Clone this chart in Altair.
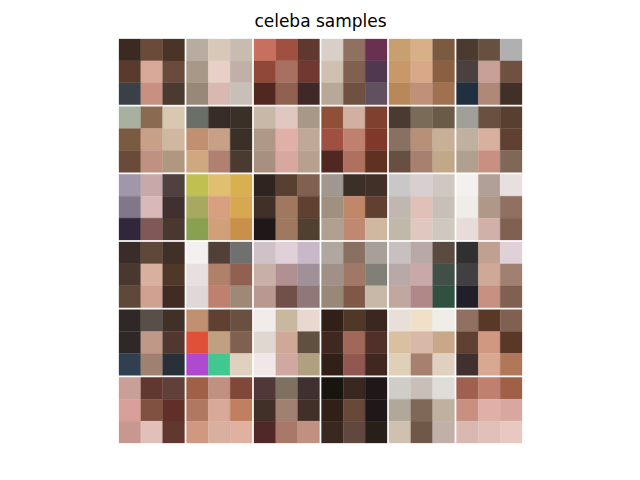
import pandas as pd
import altair as alt

# 6x6 grid of generated faces, each tile reduced to a 3x3 colour mosaic
# (read left->right, top->bottom inside each tile)
row1 = [
    ['#3a2a22', '#6b4a3a', '#4a3428', '#5a3a2a', '#d8a898', '#6a4a3a', '#3a4048', '#c89080', '#4a3a30'],
    ['#b8aca0', '#d8c8b8', '#c8bcb0', '#a89888', '#e8d0c8', '#c0b0a8', '#988878', '#d8b8b0', '#c8c0b8'],
    ['#c87060', '#a05040', '#603830', '#904838', '#a87060', '#703830', '#502820', '#906050', '#402828'],
    ['#d8d0c8', '#907060', '#6a3050', '#d0c0b0', '#806050', '#503850', '#b8a898', '#705040', '#605060'],
    ['#c8a070', '#d8b088', '#7a5a40', '#c89868', '#d8a888', '#8a6040', '#b88858', '#c09078', '#a07050'],
    ['#4a3a30', '#685040', '#b0b0b0', '#4a4040', '#c8a098', '#705040', '#203040', '#b08878', '#403028'],
]
row2 = [
    ['#a8b0a0', '#8a6a50', '#d8c8b0', '#7a5a40', '#c8a088', '#d0b8a0', '#6a4a38', '#c09080', '#b09880'],
    ['#6a7068', '#382c28', '#3a3028', '#c09070', '#c8a088', '#3a3028', '#d0a880', '#b08070', '#4a3a30'],
    ['#c8b8a8', '#e0c8c0', '#a89888', '#b09888', '#e0b0a8', '#c0a898', '#a89080', '#d8a8a0', '#b8a090'],
    ['#905038', '#d0b0a0', '#804030', '#a05040', '#c08070', '#803828', '#502820', '#b07060', '#603020'],
    ['#4a3a30', '#7a6a58', '#6a5a48', '#8a7060', '#b89078', '#c8b098', '#685040', '#a88070', '#c0a888'],
    ['#a0a098', '#6a5040', '#584030', '#c0b0a0', '#d8b0a0', '#604030', '#b0a090', '#c89080', '#806858'],
]
row3 = [
    ['#a098a8', '#c8a8a8', '#504040', '#807888', '#d8b8b8', '#403030', '#30283a', '#805858', '#4a3830'],
    ['#c0c050', '#e0c070', '#d8b050', '#a8a860', '#d8a080', '#d8a850', '#88a050', '#d0a078', '#c89048'],
    ['#302420', '#584030', '#806050', '#403028', '#a07860', '#604030', '#201818', '#a07860', '#504030'],
    ['#a09890', '#3a3028', '#403028', '#a09080', '#c08868', '#604030', '#b0a090', '#c08870', '#d0b8a0'],
    ['#c8c8c8', '#d8d0d0', '#d0c8c0', '#c0b8b0', '#e0c0b8', '#c8c0b8', '#c0b8a8', '#e0c8c0', '#d0c8c0'],
    ['#f4f0ee', '#b0a098', '#e8e0e0', '#f0ece8', '#b09888', '#907060', '#e8dcd8', '#d0b0a8', '#806050'],
]
row4 = [
    ['#3a2c28', '#604838', '#403028', '#4a3830', '#d8b0a0', '#503828', '#604838', '#d0a090', '#402c24'],
    ['#f4f0f0', '#504038', '#707070', '#e8e0e0', '#b08068', '#906050', '#e0d8d8', '#c08070', '#a08878'],
    ['#d0c0c8', '#e0d0d8', '#c8b8c8', '#c8b0a8', '#b09090', '#a09098', '#b89890', '#705048', '#907878'],
    ['#b0a8a0', '#8a7060', '#a8a098', '#a09088', '#a07868', '#808078', '#988878', '#805848', '#c8b8a8'],
    ['#c8c0c0', '#b8a8a8', '#5a4a40', '#b8a8a8', '#c8a8a8', '#405048', '#c0a8a0', '#b08888', '#305040'],
    ['#303030', '#c0a090', '#e0d0d8', '#404040', '#d0a898', '#a08070', '#202028', '#c89080', '#806050'],
]
row5 = [
    ['#302828', '#585048', '#403028', '#302828', '#c09888', '#503830', '#304050', '#a08070', '#283038'],
    ['#c09070', '#604030', '#6a5040', '#e05038', '#c0a080', '#806050', '#b048d0', '#40c890', '#e0d0c0'],
    ['#f0ecea', '#c8b8a0', '#e8d8d0', '#e0d8d0', '#d0a898', '#605040', '#f0e8e8', '#d0a8a0', '#b0a080'],
    ['#302018', '#503828', '#3a2820', '#402820', '#a06858', '#503028', '#302018', '#905850', '#402820'],
    ['#e8e0d8', '#f0e0c8', '#f0ece8', '#d8c0a0', '#d8b8a8', '#c8a888', '#e0d0b8', '#a88070', '#e0d0c0'],
    ['#907060', '#5a3828', '#806050', '#604030', '#d09880', '#5a3828', '#403030', '#d8a890', '#b07858'],
]
row6 = [
    ['#c8a098', '#603830', '#604038', '#d8a098', '#805040', '#603028', '#c89890', '#e0c0b8', '#603830'],
    ['#a06048', '#c09080', '#804838', '#b07860', '#d8a898', '#c08060', '#d09880', '#d8b0a0', '#e0b0a0'],
    ['#503838', '#807060', '#403030', '#403028', '#a08070', '#403028', '#502828', '#a87868', '#c09080'],
    ['#181410', '#382820', '#201818', '#302018', '#684838', '#201818', '#382820', '#604840', '#282018'],
    ['#d0ccc8', '#c8c0b8', '#e0dcd8', '#b0a898', '#806858', '#c0b0a0', '#d0c0b0', '#705848', '#c0b0a8'],
    ['#a06050', '#c08070', '#a06048', '#c89080', '#e0b0a8', '#d8a8a0', '#d8b8b0', '#e0c0b8', '#e8c8c0'],
]

tiles = row1 + row2 + row3 + row4 + row5 + row6

# grid geometry in image units: 6 tiles of 3 cells, thin white gap between tiles
n = 6
gap = 2
pitch = 67.5
cell = (pitch - gap) / 3
total = n * pitch - gap

records = []
for t, tile in enumerate(tiles):
    r, c = divmod(t, n)
    for k, color in enumerate(tile):
        cy, cx = divmod(k, 3)
        x0 = c * pitch + cx * cell
        y0 = r * pitch + cy * cell
        records.append({'x': x0, 'x2': x0 + cell, 'y': y0, 'y2': y0 + cell, 'color': color})
df = pd.DataFrame(records)

xs = alt.Scale(domain=[0, total], nice=False, zero=False)
ys = alt.Scale(domain=[0, total], nice=False, zero=False, reverse=True)

chart = alt.Chart(df).mark_rect(strokeWidth=0.3).encode(
    x=alt.X('x:Q', axis=None, scale=xs),
    x2='x2',
    y=alt.Y('y:Q', axis=None, scale=ys),
    y2='y2',
    color=alt.Color('color:N', scale=None),
    stroke=alt.Stroke('color:N', scale=None),
).properties(
    width=403,
    height=404,
    title=alt.Title('celeba samples', fontSize=17, font='DejaVu Sans',
                    fontWeight='normal', anchor='middle', offset=8, color='black'),
    padding={'left': 110, 'top': 4, 'right': 5, 'bottom': 5}
).configure_view(
    strokeWidth=0
)

chart.save("out.html", embed_options={"renderer": "svg", "actions": False})
